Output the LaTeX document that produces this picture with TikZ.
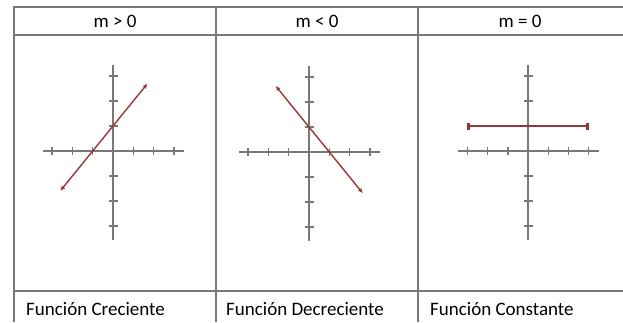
\documentclass[tikz,border=0pt]{standalone}
\usepackage{fontspec}
\setmainfont{Carlito}
\usetikzlibrary{arrows.meta, positioning}

\definecolor{rulegray}{RGB}{120,120,120}
\definecolor{axisgray}{RGB}{120,120,120}
\definecolor{slopered}{RGB}{150,55,55}

% axes with three ticks each way, drawn in the current scope
\newcommand{\cartesian}{%
  \draw[axis] (-3.45,0) -- (3.5,0);
  \draw[axis] (0,-3.55) -- (0,3.45);
  \foreach \i in {-3,-2,-1,1,2,3} {
    \draw[axis] (\i,0) ++(0,-4pt) -- ++(0,8pt);
    \draw[axis] (0,\i) ++(-4.5pt,0) -- ++(9pt,0);
  }%
}

\begin{document}
\begin{tikzpicture}[
		x=1pt, y=-1pt,
		rule/.style={draw=rulegray, line width=1.3pt},
		head/.style={font=\fontsize{19}{22}\selectfont, text=black, anchor=base, inner sep=0pt},
		caption/.style={font=\fontsize{19}{22}\selectfont, text=black, anchor=base west, inner sep=0pt},
		axis/.style={draw=axisgray, line width=1.4pt},
		slope/.style={draw=slopered, line width=1.4pt, {Latex[length=5pt,width=4.5pt]}-{Latex[length=5pt,width=4.5pt]}},
		flat/.style={draw=slopered, line width=1.4pt, {Bar[width=7pt,line width=2.2pt]}-{Bar[width=7pt,line width=2.2pt]}}
		]
		\useasboundingbox (0,0) rectangle (623,322);
		
		% Table
		\draw[rule] (623,7) -- (14,7) -- (14,322);
		\draw[rule] (14,35) -- (623,35);
		\draw[rule] (14,291) -- (623,291);
		\draw[rule] (216,7) -- (216,322);
		\draw[rule] (418,7) -- (418,322);
		
		% Headers
		\node[head] (pos) at (115,27) {m > 0};
		\node[head] (neg) at (317,27) {m < 0};
		\node[head] (zero) at (520,27) {m = 0};
		
		% Captions
		\node[caption] (inc) at (26,315) {Función Creciente};
		\node[caption] (dec) at (226,315) {Función Decreciente};
		\node[caption] (const) at (430,315) {Función Constante};
		
		% m > 0
		\begin{scope}[shift={(113,151)}, x=20.3pt, y=25pt]
			\cartesian
			\coordinate (incA) at (-2.6,-1.6);
			\coordinate (incB) at (1.7,2.7);
			\draw[slope] (incA) -- (incB);
		\end{scope}
		
		% m < 0
		\begin{scope}[shift={(309,152)}, x=20.3pt, y=25pt]
			\cartesian
			\coordinate (decA) at (-1.65,2.65);
			\coordinate (decB) at (2.65,-1.65);
			\draw[slope] (decA) -- (decB);
		\end{scope}
		
		% m = 0
		\begin{scope}[shift={(528,151)}, x=20.2pt, y=25pt]
			\cartesian
			\coordinate (constA) at (-3,1);
			\coordinate (constB) at (3,1);
			\draw[flat] (constA) -- (constB);
		\end{scope}
		
	\end{tikzpicture}
\end{document}
